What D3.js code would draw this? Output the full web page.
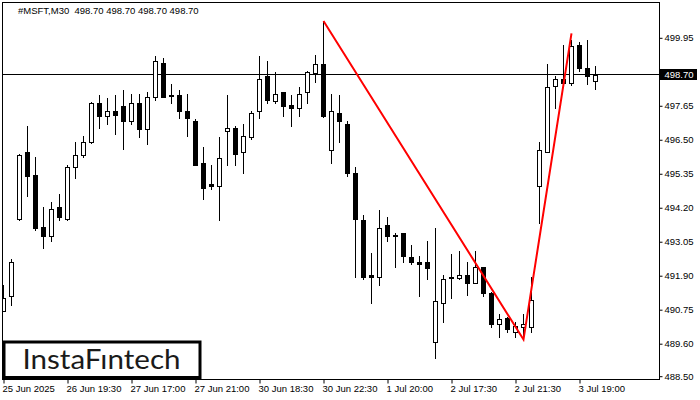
<!DOCTYPE html>
<html>
<head>
<meta charset="utf-8">
<script src="https://cdn.jsdelivr.net/npm/d3@7"></script>
<style>
  html, body { margin: 0; padding: 0; background: #fff; }
  svg { display: block; }
</style>
</head>
<body>
<svg id="chart" width="700" height="400"></svg>
<script>
// ---- data ----
const opens = [490.72, 491.20, 493.83, 496.07, 495.32, 493.56, 493.23, 494.21, 493.83, 495.59,
  495.97, 496.41, 497.73, 497.29, 497.46, 497.63, 497.12, 497.76, 496.88, 497.96,
  499.11, 498.02, 498.03, 497.49, 497.15, 495.70, 494.99, 494.95, 496.81, 496.91,
  496.10, 496.61, 497.46, 498.67, 497.80, 498.10, 497.69, 497.57, 498.10, 498.77,
  499.08, 496.17, 497.39, 497.05, 495.36, 493.80, 491.91, 491.87, 493.60, 493.29,
  493.33, 492.55, 492.38, 492.35, 489.67, 490.99, 491.87, 491.81, 491.94, 491.67,
  492.18, 491.33, 490.25, 490.48, 490.01, 490.18, 490.18, 494.95, 496.10, 498.31,
  498.57, 498.42, 499.69, 498.93, 498.49];
const highs = [491.60, 492.48, 496.03, 496.98, 495.90, 494.21, 494.41, 494.65, 495.63, 496.44,
  496.64, 497.79, 498.03, 497.93, 498.00, 498.17, 498.06, 498.06, 498.10, 499.32,
  499.25, 498.40, 498.17, 498.06, 497.19, 496.24, 495.66, 496.58, 498.00, 496.95,
  497.02, 497.49, 499.32, 499.18, 498.78, 498.13, 498.03, 498.30, 498.84, 499.38,
  500.51, 498.06, 498.00, 497.15, 495.59, 493.94, 492.68, 494.11, 493.87, 493.33,
  493.34, 492.95, 492.58, 493.06, 493.50, 491.94, 492.65, 492.75, 492.38, 492.72,
  492.21, 491.35, 490.62, 490.50, 490.32, 490.62, 491.84, 496.41, 499.05, 498.67,
  499.72, 499.86, 499.82, 499.86, 499.01];
const lows = [490.70, 490.92, 493.80, 494.61, 493.46, 492.85, 493.06, 493.77, 493.80, 495.22,
  495.93, 496.39, 496.91, 497.05, 496.68, 496.20, 497.02, 496.58, 496.34, 497.86,
  497.94, 497.76, 497.22, 496.64, 495.63, 494.48, 494.82, 493.80, 495.66, 495.63,
  495.36, 496.54, 497.25, 497.76, 497.76, 497.29, 496.95, 497.29, 497.73, 498.47,
  497.27, 495.73, 496.44, 495.26, 491.84, 491.80, 490.99, 491.60, 493.06, 492.21,
  492.35, 492.28, 491.20, 491.80, 489.10, 490.35, 491.13, 491.80, 491.26, 491.65,
  491.23, 490.18, 489.84, 490.01, 489.81, 489.84, 490.01, 493.67, 496.09, 497.56,
  498.40, 498.34, 498.84, 498.37, 498.22];
const closes = [491.16, 492.35, 495.97, 495.26, 493.50, 493.23, 494.17, 493.90, 495.59, 495.97,
  496.44, 497.73, 497.29, 497.49, 497.35, 497.15, 497.76, 496.88, 497.96, 499.15,
  497.96, 497.97, 497.46, 497.22, 495.66, 494.88, 494.93, 495.87, 496.91, 496.03,
  496.64, 497.42, 498.57, 497.83, 498.05, 497.63, 497.57, 498.05, 498.78, 499.05,
  497.29, 497.49, 497.15, 495.39, 493.83, 491.85, 491.85, 493.53, 493.26, 493.26,
  492.56, 492.36, 492.29, 492.15, 491.03, 491.80, 491.83, 491.93, 491.67, 492.21,
  491.30, 490.25, 490.45, 490.11, 490.21, 490.25, 491.09, 496.17, 498.30, 498.56,
  498.42, 499.67, 498.92, 498.65, 498.70];

const xTickIdx = [0, 8, 16, 24, 32, 40, 48, 56, 64, 72];
const xTickLabels = ["25 Jun 2025", "26 Jun 19:30", "27 Jun 17:00", "27 Jun 21:00", "30 Jun 18:30",
  "30 Jun 22:30", "1 Jul 20:00", "2 Jul 17:30", "2 Jul 21:30", "3 Jul 19:00"];
// 498.80 tick sits under the current-price tag, so it has a mark but no visible label
const yTicks = [488.50, 489.60, 490.75, 491.90, 493.05, 494.20, 495.35, 496.50, 497.65, 498.80, 499.95];
const yTicksHidden = [498.80];

const patternIdx = [40, 65, 71];
const patternPrice = [500.52, 489.74, 500.10];

const symbol = "#MSFT,M30";
const currentPrice = 498.70;

(function () {
  const svg = d3.select("#chart");
  const L = 2.5, R = 659.5, T = 2.5, B = 379.5;

  const x = d3.scaleLinear().domain([0, 74]).range([3.5, 595.5]);
  const y = d3.scaleLinear().domain([488.5, 499.95]).range([376.2, 37.8]);

  const FONT = "'Liberation Sans', Arial, sans-serif";
  const f2 = d3.format(".2f");

  svg.append("defs").append("clipPath").attr("id", "plotclip")
    .append("rect").attr("x", 3).attr("y", 3).attr("width", R - 3).attr("height", B - 3);

  const plot = svg.append("g").attr("clip-path", "url(#plotclip)");

  // current price line
  const py = Math.floor(y(currentPrice)) + 0.5;
  plot.append("line")
    .attr("x1", L).attr("x2", R).attr("y1", py).attr("y2", py)
    .attr("stroke", "#000").attr("stroke-width", 1);

  // candles
  const idx = d3.range(opens.length);
  const cand = plot.append("g").selectAll("g").data(idx).join("g");
  const px = i => Math.round(x(i) - 0.5) + 0.5;
  const ry = v => Math.round(y(v));

  cand.append("line")
    .attr("x1", px).attr("x2", px)
    .attr("y1", i => ry(highs[i]))
    .attr("y2", i => ry(lows[i]) + 1)
    .attr("stroke", "#000").attr("stroke-width", 1);

  cand.append("rect")
    .attr("x", i => px(i) - 2)
    .attr("width", 4)
    .attr("y", i => ry(Math.max(opens[i], closes[i])) + 0.5)
    .attr("height", i => Math.max(0.01, ry(Math.min(opens[i], closes[i])) - ry(Math.max(opens[i], closes[i]))))
    .attr("fill", i => closes[i] >= opens[i] ? "#fff" : "#000")
    .attr("stroke", "#000").attr("stroke-width", 1);

  // pattern line
  plot.append("path")
    .datum(patternIdx.map((d, k) => [d, patternPrice[k]]))
    .attr("d", d3.line().x(d => x(d[0])).y(d => y(d[1])))
    .attr("fill", "none").attr("stroke", "#ff0000").attr("stroke-width", 2);

  // frame
  svg.append("rect")
    .attr("x", L).attr("y", T).attr("width", R - L).attr("height", B - T)
    .attr("fill", "none").attr("stroke", "#000").attr("stroke-width", 1);

  // right axis
  const yAxis = d3.axisRight(y).tickValues(yTicks)
    .tickFormat(d => yTicksHidden.includes(d) ? "" : f2(d)).tickSize(3).tickPadding(2);
  const gy = svg.append("g").attr("transform", `translate(${R},0)`).call(yAxis);
  gy.select(".domain").remove();
  gy.selectAll("text").attr("font-family", FONT).attr("font-size", "9.5px").attr("fill", "#000");
  gy.selectAll("line").attr("stroke", "#000");

  // current price tag
  const tag = svg.append("g");
  tag.append("rect").attr("x", 660).attr("y", py - 5.5).attr("width", 37).attr("height", 11).attr("fill", "#000");
  tag.append("text").attr("x", 664.5).attr("y", py).attr("dy", "0.34em")
    .attr("font-family", FONT).attr("font-size", "9.5px").attr("fill", "#fff")
    .text(f2(currentPrice));

  // bottom axis
  const xAxis = d3.axisBottom(x).tickValues(xTickIdx)
    .tickFormat((d, k) => xTickLabels[k]).tickSize(4).tickPadding(2);
  const gx = svg.append("g").attr("transform", `translate(0,${B})`).call(xAxis);
  gx.select(".domain").remove();
  gx.selectAll("text").attr("font-family", FONT).attr("font-size", "9.5px").attr("fill", "#000")
    .attr("text-anchor", "start").attr("dx", "-1.5");
  gx.selectAll("line").attr("stroke", "#000");

  // header
  svg.append("text").attr("x", 18).attr("y", 14)
    .attr("font-family", FONT).attr("font-size", "9.5px").attr("fill", "#000")
    .style("white-space", "pre")
    .text(`${symbol}  ${f2(currentPrice)} ${f2(currentPrice)} ${f2(currentPrice)} ${f2(currentPrice)}`);

  // logo
  svg.append("rect").attr("x", 4).attr("y", 342).attr("width", 196).attr("height", 35.5)
    .attr("fill", "#fff").attr("stroke", "#000").attr("stroke-width", 3);
  svg.append("text").attr("x", 22.5).attr("y", 369)
    .attr("font-family", "Lato, 'Open Sans', sans-serif").attr("font-size", "27px")
    .attr("fill", "#1a1a1a").attr("textLength", 158).attr("lengthAdjust", "spacingAndGlyphs")
    .text("InstaF\u0131ntech");
})();
</script>
</body>
</html>
